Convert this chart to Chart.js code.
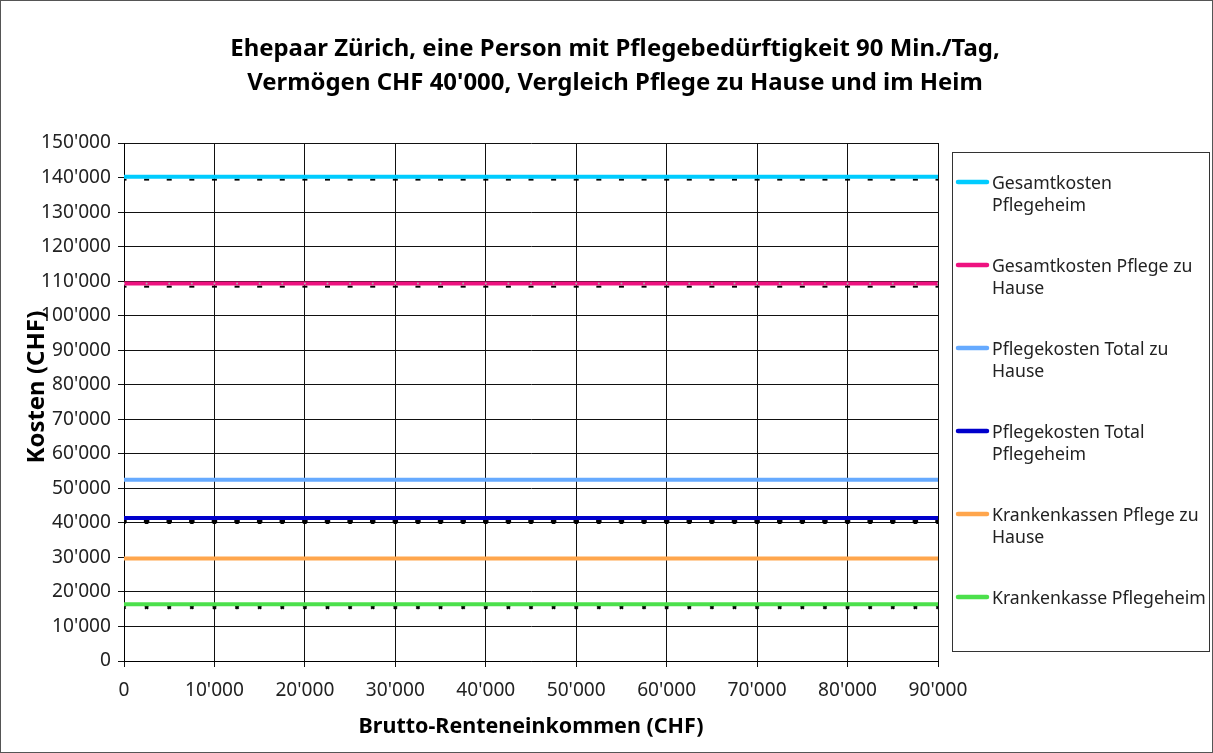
<!DOCTYPE html>
<html>
<head>
<meta charset="utf-8">
<script src="https://cdn.jsdelivr.net/npm/chart.js@4.4.0/dist/chart.umd.min.js"></script>
<style>
  html, body { margin: 0; padding: 0; background: #fff; }
  #wrap { width: 1213px; height: 753px; position: relative; }
</style>
</head>
<body>
<div id="wrap"><canvas id="chart" width="1213" height="753"></canvas></div>
<script>
// -------- data -------- //

const titleLines = [
    'Ehepaar Zürich, eine Person mit Pflegebedürftigkeit 90 Min./Tag,',
    'Vermögen CHF 40\'000, Vergleich Pflege zu Hause und im Heim'
];
const xTitle = 'Brutto-Renteneinkommen (CHF)';
const yTitle = 'Kosten (CHF)';

// Brutto-Renteneinkommen (x values)
const income = [0, 2500, 5000, 7500, 10000, 12500, 15000, 17500, 20000, 22500, 25000, 27500, 30000, 32500, 35000, 37500, 40000, 42500, 45000, 47500, 50000, 52500, 55000, 57500, 60000, 62500, 65000, 67500, 70000, 72500, 75000, 77500, 80000, 82500, 85000, 87500, 90000];

// series values (CHF)
const gesamtPflegeheim = [140200, 140200, 140200, 140200, 140200, 140200, 140200, 140200, 140200, 140200, 140200, 140200, 140200, 140200, 140200, 140200, 140200, 140200, 140200, 140200, 140200, 140200, 140200, 140200, 140200, 140200, 140200, 140200, 140200, 140200, 140200, 140200, 140200, 140200, 140200, 140200, 140200];
const gesamtZuHause = [109300, 109300, 109300, 109300, 109300, 109300, 109300, 109300, 109300, 109300, 109300, 109300, 109300, 109300, 109300, 109300, 109300, 109300, 109300, 109300, 109300, 109300, 109300, 109300, 109300, 109300, 109300, 109300, 109300, 109300, 109300, 109300, 109300, 109300, 109300, 109300, 109300];
const pflegeTotalZuHause = [52500, 52500, 52500, 52500, 52500, 52500, 52500, 52500, 52500, 52500, 52500, 52500, 52500, 52500, 52500, 52500, 52500, 52500, 52500, 52500, 52500, 52500, 52500, 52500, 52500, 52500, 52500, 52500, 52500, 52500, 52500, 52500, 52500, 52500, 52500, 52500, 52500];
const pflegeTotalHeim = [41400, 41400, 41400, 41400, 41400, 41400, 41400, 41400, 41400, 41400, 41400, 41400, 41400, 41400, 41400, 41400, 41400, 41400, 41400, 41400, 41400, 41400, 41400, 41400, 41400, 41400, 41400, 41400, 41400, 41400, 41400, 41400, 41400, 41400, 41400, 41400, 41400];
const kkZuHause = [29700, 29700, 29700, 29700, 29700, 29700, 29700, 29700, 29700, 29700, 29700, 29700, 29700, 29700, 29700, 29700, 29700, 29700, 29700, 29700, 29700, 29700, 29700, 29700, 29700, 29700, 29700, 29700, 29700, 29700, 29700, 29700, 29700, 29700, 29700, 29700, 29700];
const kkPflegeheim = [16400, 16400, 16400, 16400, 16400, 16400, 16400, 16400, 16400, 16400, 16400, 16400, 16400, 16400, 16400, 16400, 16400, 16400, 16400, 16400, 16400, 16400, 16400, 16400, 16400, 16400, 16400, 16400, 16400, 16400, 16400, 16400, 16400, 16400, 16400, 16400, 16400];

// black marker rows sitting just under some of the lines (no legend entry)
const markerA = [139400, 139400, 139400, 139400, 139400, 139400, 139400, 139400, 139400, 139400, 139400, 139400, 139400, 139400, 139400, 139400, 139400, 139400, 139400, 139400, 139400, 139400, 139400, 139400, 139400, 139400, 139400, 139400, 139400, 139400, 139400, 139400, 139400, 139400, 139400, 139400, 139400];
const markerB = [108400, 108400, 108400, 108400, 108400, 108400, 108400, 108400, 108400, 108400, 108400, 108400, 108400, 108400, 108400, 108400, 108400, 108400, 108400, 108400, 108400, 108400, 108400, 108400, 108400, 108400, 108400, 108400, 108400, 108400, 108400, 108400, 108400, 108400, 108400, 108400, 108400];
const markerC = [40500, 40500, 40500, 40500, 40500, 40500, 40500, 40500, 40500, 40500, 40500, 40500, 40500, 40500, 40500, 40500, 40500, 40500, 40500, 40500, 40500, 40500, 40500, 40500, 40500, 40500, 40500, 40500, 40500, 40500, 40500, 40500, 40500, 40500, 40500, 40500, 40500];
const markerD = [15600, 15600, 15600, 15600, 15600, 15600, 15600, 15600, 15600, 15600, 15600, 15600, 15600, 15600, 15600, 15600, 15600, 15600, 15600, 15600, 15600, 15600, 15600, 15600, 15600, 15600, 15600, 15600, 15600, 15600, 15600, 15600, 15600, 15600, 15600, 15600, 15600];

// legend texts, already broken into lines like the original
const seriesLabels = [
    ['Gesamtkosten', 'Pflegeheim'],
    ['Gesamtkosten Pflege zu', 'Hause'],
    ['Pflegekosten Total zu', 'Hause'],
    ['Pflegekosten Total', 'Pflegeheim'],
    ['Krankenkassen Pflege zu', 'Hause'],
    ['Krankenkasse Pflegeheim']
];
const seriesColors = ['#00CCFF', '#EE1280', '#66AAFF', '#0000CC', '#FFA64D', '#4CE04C'];

// -------- ------------- -------- //

const FONT = "'Noto Sans', 'Open Sans', sans-serif";
const measureCtx = document.createElement('canvas').getContext('2d');

// font size giving the text the width it has in the picture
function fitSize(text, weight, width) {
    measureCtx.font = weight + ' 100px ' + FONT;
    return 100 * width / measureCtx.measureText(text).width;
}

const tickSize = fitSize("150'000", 'normal', 70);
const legendSize = fitSize('Krankenkasse Pflegeheim', 'normal', 214);
const titleSize = fitSize(titleLines[0], 'bold', 770);
const xTitleSize = fitSize(xTitle, 'bold', 345);
const yTitleSize = fitSize(yTitle, 'bold', 153);

function swissNumber(v) {
    return String(v).replace(/\B(?=(\d{3})+(?!\d))/g, "'");
}

function points(values) {
    return income.map((x, i) => ({ x: x, y: values[i] }));
}

const lineSeries = [gesamtPflegeheim, gesamtZuHause, pflegeTotalZuHause, pflegeTotalHeim, kkZuHause, kkPflegeheim];

const datasets = lineSeries.map((vals, i) => ({
    label: seriesLabels[i].join(' '),
    data: points(vals),
    borderColor: seriesColors[i],
    backgroundColor: i === 1 ? '#B0B0B0' : seriesColors[i],
    borderWidth: 4,
    pointRadius: i === 1 ? 1 : 0,
    pointBorderWidth: 0,
    order: 1
}));

const markerDefs = [
    { data: markerA, style: 'line', r: 2.5 },
    { data: markerB, style: 'line', r: 2.5 },
    { data: markerC, style: 'circle', r: 1.8 },
    { data: markerD, style: 'crossRot', r: 2.2 }
];
markerDefs.forEach(m => datasets.push({
    label: '',
    data: points(m.data),
    showLine: false,
    pointStyle: m.style,
    pointRadius: m.r,
    borderWidth: 2,
    borderColor: '#000',
    backgroundColor: '#000',
    order: 2
}));

// title, axis titles, legend box and frame
const decorations = {
    id: 'decorations',
    beforeDraw(chart) {
        const ctx = chart.ctx;
        ctx.save();
        ctx.fillStyle = '#fff';
        ctx.fillRect(0, 0, chart.width, chart.height);
        ctx.restore();
    },
    afterDraw(chart) {
        const ctx = chart.ctx;
        ctx.save();
        ctx.strokeStyle = '#555';
        ctx.lineWidth = 1;
        ctx.strokeRect(0.5, 0.5, chart.width - 1, chart.height - 1);

        ctx.fillStyle = '#000';
        ctx.textAlign = 'center';
        ctx.textBaseline = 'middle';
        ctx.font = 'bold ' + titleSize + 'px ' + FONT;
        ctx.fillText(titleLines[0], 615, 49);
        ctx.fillText(titleLines[1], 615, 83);

        ctx.font = 'bold ' + xTitleSize + 'px ' + FONT;
        ctx.fillText(xTitle, 531, 727);

        ctx.save();
        ctx.translate(37, 387);
        ctx.rotate(-Math.PI / 2);
        ctx.font = 'bold ' + yTitleSize + 'px ' + FONT;
        ctx.fillText(yTitle, 0, 0);
        ctx.restore();

        // legend
        ctx.strokeStyle = '#333';
        ctx.strokeRect(952.5, 152.5, 257, 499);
        ctx.textAlign = 'left';
        ctx.font = legendSize + 'px ' + FONT;
        ctx.lineCap = 'round';
        seriesLabels.forEach((lines, i) => {
            const y = 182 + i * 83;
            ctx.strokeStyle = seriesColors[i];
            ctx.lineWidth = 4.5;
            ctx.beginPath();
            ctx.moveTo(958, y);
            ctx.lineTo(987, y);
            ctx.stroke();
            ctx.fillStyle = '#222';
            lines.forEach((t, j) => ctx.fillText(t, 992, y + 2 + j * 22));
        });
        ctx.restore();
    }
};

new Chart(document.getElementById('chart'), {
    type: 'line',
    data: { datasets: datasets },
    options: {
        responsive: false,
        animation: false,
        layout: { padding: { left: 0, top: 143, right: 275, bottom: 0 } },
        plugins: {
            legend: { display: false },
            title: { display: false },
            tooltip: { enabled: false }
        },
        elements: { line: { tension: 0, borderCapStyle: 'butt' } },
        scales: {
            x: {
                type: 'linear',
                min: 0,
                max: 90000,
                afterFit: s => { s.height = 92; },
                ticks: {
                    stepSize: 10000,
                    color: '#222',
                    padding: 12,
                    maxRotation: 0,
                    font: { family: FONT, size: tickSize },
                    callback: v => swissNumber(v)
                },
                grid: { color: '#111', lineWidth: 1, tickLength: 6, tickColor: '#111' },
                border: { color: '#000', width: 1 }
            },
            y: {
                min: 0,
                max: 150000,
                afterFit: s => { s.width = 124; },
                ticks: {
                    stepSize: 10000,
                    color: '#222',
                    padding: 7,
                    font: { family: FONT, size: tickSize },
                    callback: v => swissNumber(v)
                },
                grid: { color: '#111', lineWidth: 1, tickLength: 6, tickColor: '#111' },
                border: { color: '#000', width: 1 }
            }
        }
    },
    plugins: [decorations]
});
</script>
</body>
</html>
